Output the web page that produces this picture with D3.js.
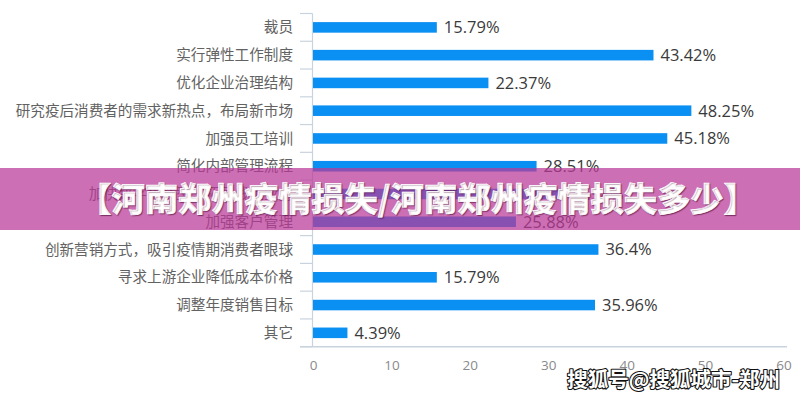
<!DOCTYPE html>
<html>
<head>
<meta charset="utf-8">
<script src="https://cdn.jsdelivr.net/npm/d3@7/dist/d3.min.js"></script>
<style>
  html, body { margin: 0; padding: 0; background: #fff; }
  svg { display: block; }
</style>
</head>
<body>
<svg id="chart" width="800" height="400"></svg>
<script>
// ---- data ----
const categories = [
  "裁员",
  "实行弹性工作制度",
  "优化企业治理结构",
  "研究疫后消费者的需求新热点，布局新市场",
  "加强员工培训",
  "简化内部管理流程",
  "加快数字化转型，拓展线上业务",
  "加强客户管理",
  "创新营销方式，吸引疫情期消费者眼球",
  "寻求上游企业降低成本价格",
  "调整年度销售目标",
  "其它"
];
const values = [15.79, 43.42, 22.37, 48.25, 45.18, 28.51, 31.58, 25.88, 36.4, 15.79, 35.96, 4.39];
const xTicks = [0, 10, 20, 30, 40, 50, 60];
const bannerTitle = "【河南郑州疫情损失/河南郑州疫情损失多少】";
const watermark = "搜狐号@搜狐城市-郑州";

(function () {
// ---- layout ----
const svg = d3.select("#chart");
const W = 800, H = 400;
const pLeft = 313, pRight = 783.5, pTop = 13.5, pBottom = 346.7;

const x = d3.scaleLinear().domain([0, 60]).range([pLeft, pRight]);
const y = d3.scaleBand().domain(categories).range([pTop, pBottom])
  .paddingInner(0.62).paddingOuter(0.31);

svg.append("rect").attr("width", W).attr("height", H).attr("fill", "#fff");

const axisColor = "#c9d3de";

// y axis line
svg.append("line")
  .attr("x1", pLeft - 0.5).attr("x2", pLeft - 0.5)
  .attr("y1", pTop).attr("y2", pBottom)
  .attr("stroke", axisColor).attr("stroke-width", 1.2);

// category boundary ticks
const step = y.step();
const boundaries = d3.range(categories.length + 1).map(i => pTop + i * step);
svg.selectAll("line.ytick").data(boundaries).join("line")
  .attr("class", "ytick")
  .attr("x1", 300).attr("x2", pLeft - 0.5)
  .attr("y1", d => d).attr("y2", d => d)
  .attr("stroke", axisColor).attr("stroke-width", 1.2);

// x axis line
svg.append("line")
  .attr("x1", 300).attr("x2", 787)
  .attr("y1", pBottom).attr("y2", pBottom)
  .attr("stroke", axisColor).attr("stroke-width", 1.5);

// x tick labels via axis
const xAxis = d3.axisBottom(x).tickValues(xTicks).tickSize(0).tickPadding(0);
const gx = svg.append("g").attr("transform", `translate(0,${pBottom + 14})`).call(xAxis);
gx.select(".domain").remove();
gx.selectAll("text")
  .attr("font-family", "'Open Sans', 'DejaVu Sans', sans-serif")
  .attr("font-size", 13.5)
  .attr("fill", "#8a8a8a")
  .attr("dy", "0.71em");

// category labels
svg.selectAll("text.cat").data(categories).join("text")
  .attr("class", "cat")
  .attr("x", 293)
  .attr("y", d => y(d) + y.bandwidth() / 2)
  .attr("dy", "0.35em")
  .attr("text-anchor", "end")
  .attr("font-family", "'Noto Sans CJK SC', sans-serif")
  .attr("font-size", 14.6)
  .attr("fill", "#626262")
  .text(d => d);

// bars
svg.selectAll("rect.bar").data(values).join("rect")
  .attr("class", "bar")
  .attr("x", x(0))
  .attr("y", (d, i) => y(categories[i]))
  .attr("width", d => x(d) - x(0))
  .attr("height", y.bandwidth())
  .attr("fill", "#0a8ff2");

// value labels
svg.selectAll("text.val").data(values).join("text")
  .attr("class", "val")
  .attr("x", d => x(d) + 7)
  .attr("y", (d, i) => y(categories[i]) + y.bandwidth() / 2)
  .attr("dy", "0.36em")
  .attr("font-family", "'Open Sans', 'Liberation Sans', sans-serif")
  .attr("font-size", 16.5)
  .attr("fill", "#3a3a3a")
  .text(d => d + "%");

// banner overlay
svg.append("rect")
  .attr("x", 0).attr("y", 168).attr("width", W).attr("height", 62)
  .attr("fill", "rgb(186,56,151)").attr("fill-opacity", 0.72);

svg.append("text")
  .attr("x", 417.5).attr("y", 199)
  .attr("dy", "0.36em")
  .attr("text-anchor", "middle")
  .attr("font-family", "'Noto Sans CJK SC', sans-serif")
  .attr("font-weight", "900")
  .attr("font-size", 33.3)
  .attr("fill", "#ffffff")
  .attr("stroke", "#ffffff")
  .attr("stroke-width", 0.6)
  .style("text-shadow", "1px 1px 1px rgba(60,0,40,0.45)")
  .text(bannerTitle);

// watermark
svg.append("text")
  .attr("x", 780).attr("y", 380)
  .attr("dy", "0.36em")
  .attr("text-anchor", "end")
  .attr("font-family", "'Noto Sans CJK SC', sans-serif")
  .attr("font-weight", "bold")
  .attr("font-size", 20.5)
  .attr("fill", "#ffffff")
  .attr("stroke", "#111")
  .attr("stroke-width", 2.2)
  .attr("paint-order", "stroke")
  .attr("stroke-linejoin", "round")
  .text(watermark);
})();
</script>
</body>
</html>
